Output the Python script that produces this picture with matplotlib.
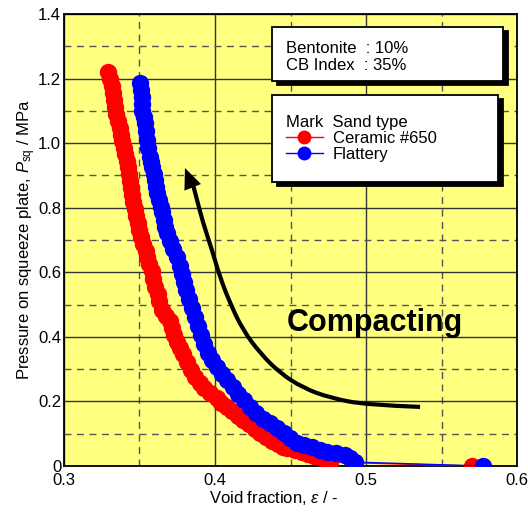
import matplotlib
matplotlib.use("Agg")
import matplotlib.pyplot as plt
from matplotlib.patches import Rectangle, PathPatch
from matplotlib.path import Path
from matplotlib.ticker import MultipleLocator, FuncFormatter
from matplotlib import transforms

plt.rcParams['font.family'] = ['Liberation Sans', 'DejaVu Sans']
plt.rcParams['mathtext.fontset'] = 'custom'
plt.rcParams['mathtext.rm'] = 'Liberation Sans'
plt.rcParams['mathtext.it'] = 'Liberation Sans:italic'
plt.rcParams['font.size'] = 12

# Ceramic #650 sand
ceramic_void = [0.329, 0.3305, 0.332, 0.3325, 0.333, 0.334, 0.3345, 0.336, 0.337, 0.338,
                0.3385, 0.340, 0.3405, 0.342, 0.3425, 0.343, 0.344, 0.3445, 0.345, 0.3455,
                0.347, 0.348, 0.349, 0.350, 0.351, 0.352, 0.354, 0.355, 0.356, 0.358,
                0.359, 0.360, 0.362, 0.363, 0.365, 0.3675, 0.370, 0.3715, 0.373, 0.375,
                0.377, 0.379, 0.3815, 0.384, 0.387, 0.390, 0.393, 0.397, 0.401, 0.404,
                0.408, 0.411, 0.415, 0.4185, 0.4225, 0.4265, 0.430, 0.434, 0.438, 0.442,
                0.445, 0.448, 0.453, 0.4576, 0.4615, 0.4655, 0.4695, 0.473, 0.476, 0.570]
ceramic_p = [1.220, 1.199, 1.177, 1.155, 1.133, 1.112, 1.090, 1.068, 1.047, 1.025,
             1.007, 0.985, 0.966, 0.945, 0.926, 0.904, 0.883, 0.861, 0.839, 0.818,
             0.796, 0.774, 0.753, 0.731, 0.709, 0.688, 0.666, 0.647, 0.626, 0.604,
             0.579, 0.554, 0.533, 0.511, 0.483, 0.465, 0.449, 0.427, 0.406, 0.384,
             0.365, 0.347, 0.322, 0.297, 0.276, 0.257, 0.242, 0.226, 0.211, 0.195,
             0.183, 0.170, 0.155, 0.142, 0.130, 0.115, 0.102, 0.090, 0.077, 0.068,
             0.059, 0.056, 0.050, 0.043, 0.037, 0.031, 0.028, 0.022, 0.012, 0.0]

# Flattery sand
flattery_void = [0.3503, 0.351, 0.3517, 0.3517, 0.3517, 0.353, 0.3536, 0.3543, 0.355, 0.3556,
                 0.357, 0.3576, 0.3583, 0.3596, 0.3603, 0.361, 0.3616, 0.363, 0.3642, 0.3649,
                 0.3662, 0.367, 0.3682, 0.370, 0.372, 0.375, 0.377, 0.378, 0.3795, 0.381,
                 0.383, 0.385, 0.387, 0.389, 0.391, 0.393, 0.3954, 0.398, 0.401, 0.4046,
                 0.408, 0.412, 0.415, 0.419, 0.4232, 0.427, 0.432, 0.4364, 0.441, 0.4457,
                 0.4497, 0.4543, 0.459, 0.464, 0.4695, 0.474, 0.480, 0.486, 0.4894, 0.4927,
                 0.5775]
flattery_p = [1.186, 1.164, 1.143, 1.121, 1.099, 1.081, 1.062, 1.037, 1.010, 0.985,
              0.957, 0.941, 0.926, 0.904, 0.886, 0.864, 0.845, 0.824, 0.802, 0.787,
              0.762, 0.740, 0.722, 0.697, 0.672, 0.647, 0.619, 0.595, 0.570, 0.545,
              0.517, 0.489, 0.461, 0.434, 0.406, 0.378, 0.350, 0.328, 0.307, 0.285,
              0.266, 0.245, 0.223, 0.204, 0.183, 0.164, 0.146, 0.133, 0.118, 0.102,
              0.087, 0.071, 0.065, 0.059, 0.050, 0.043, 0.040, 0.034, 0.025, 0.012,
              0.0]

# guide curve for the "Compacting" arrow
arrow_x = [0.5358, 0.5007, 0.4762, 0.4583, 0.4430, 0.4298, 0.4185, 0.4099,
           0.4033, 0.3980, 0.3921, 0.3881, 0.3855]
arrow_y = [0.183, 0.189, 0.211, 0.242, 0.288, 0.350, 0.421, 0.505,
           0.585, 0.669, 0.753, 0.824, 0.870]
arrow_tip = (0.3801, 0.923)

fig = plt.figure(figsize=(5.28, 5.14), dpi=100)
ax = fig.add_axes([0.1212, 0.0934, 0.858, 0.8794])
ax.set_facecolor('#ffff80')

ax.set_xlim(0.3, 0.6)
ax.set_ylim(0, 1.4)
ax.xaxis.set_major_locator(MultipleLocator(0.1))
ax.xaxis.set_minor_locator(MultipleLocator(0.05))
ax.yaxis.set_major_locator(MultipleLocator(0.2))
ax.yaxis.set_minor_locator(MultipleLocator(0.1))
ax.yaxis.set_major_formatter(FuncFormatter(lambda v, p: '0' if abs(v) < 1e-9 else '%.1f' % v))
ax.tick_params(which='both', length=0)
ax.tick_params(axis='x', pad=5)
ax.tick_params(axis='y', pad=2)

ax.grid(which='major', color='#333333', lw=1.0, ls='-')
ax.grid(which='minor', color='#555555', lw=1.0, ls=(0, (5, 4)))
ax.set_axisbelow(True)
for s in ax.spines.values():
    s.set_linewidth(1.3)

ax.plot(ceramic_void, ceramic_p, '-o', color='#ff0000', lw=1.0, ms=12.5,
        markeredgewidth=0, label='Ceramic #650', zorder=3)
ax.plot(flattery_void, flattery_p, '-o', color='#0000ff', lw=1.0, ms=12.5,
        markeredgewidth=0, label='Flattery', zorder=3)

# arrow shaft: polyline smoothed with quadratic segments through midpoints
pts = list(zip(arrow_x, arrow_y))
verts = [pts[0]]
codes = [Path.MOVETO]
for i in range(1, len(pts) - 1):
    mid = ((pts[i][0] + pts[i + 1][0]) / 2, (pts[i][1] + pts[i + 1][1]) / 2)
    verts += [pts[i], mid]
    codes += [Path.CURVE3, Path.CURVE3]
verts.append(pts[-1])
codes.append(Path.LINETO)
ax.add_patch(PathPatch(Path(verts, codes), fill=False, edgecolor='k', lw=3,
                       capstyle='butt', zorder=4))
ax.annotate('', xy=arrow_tip, xytext=(arrow_x[-1], arrow_y[-1] - 0.01),
            arrowprops=dict(arrowstyle='-|>,head_length=0.75,head_width=0.32',
                            mutation_scale=20, color='k', lw=0,
                            shrinkA=0, shrinkB=0), zorder=4)
ax.text(0.506, 0.418, 'Compacting', fontsize=22, fontweight='bold',
        ha='center', va='baseline', zorder=4)

ax.set_xlabel(r'Void fraction, $\it{\varepsilon}$ / -')
ax.set_ylabel(r'Pressure on squeeze plate, $P_{\rm sq}$ / MPa')
ax.xaxis.set_label_coords(0.4636, -0.052)
ax.yaxis.set_label_coords(-0.0573, 0.5)


def boxed(x0, y0, x1, y1):
    shadow = transforms.offset_copy(ax.transAxes, fig=fig, x=5, y=-4, units='dots')
    ax.add_patch(Rectangle((x0, y0), x1 - x0, y1 - y0, transform=shadow,
                           facecolor='black', edgecolor='black', lw=1.3, zorder=5))
    ax.add_patch(Rectangle((x0, y0), x1 - x0, y1 - y0, transform=ax.transAxes,
                           facecolor='white', edgecolor='black', lw=1.3, zorder=6))


boxed(0.459, 0.852, 0.969, 0.971)
ax.text(0.490, 0.905, 'Bentonite  : 10%\nCB Index  : 35%', transform=ax.transAxes,
        ha='left', va='center', linespacing=1.15, zorder=7)

boxed(0.459, 0.628, 0.958, 0.821)
leg = ax.legend(loc='upper left', bbox_to_anchor=(0.490, 0.776), frameon=False,
                title='Mark  Sand type', title_fontsize=12, alignment='left',
                borderpad=0, borderaxespad=0, handlelength=2.2, handletextpad=0.6,
                labelspacing=0.05, markerscale=0.8)
leg.set_zorder(7)

fig.savefig('out.png', dpi=100)
